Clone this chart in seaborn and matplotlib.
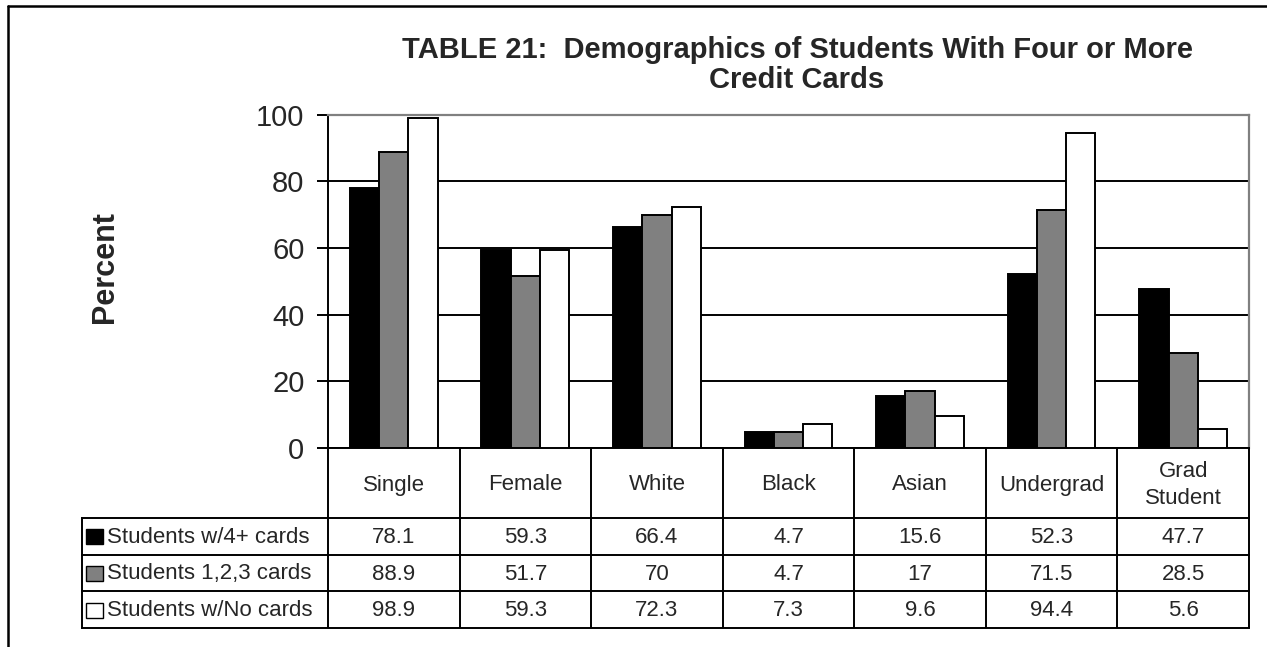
import matplotlib
matplotlib.use("Agg")
import matplotlib.pyplot as plt
from matplotlib.patches import Rectangle
from matplotlib.lines import Line2D
import seaborn as sns
import pandas as pd

# ---- data -------------------------------------------------------------
categories = ["Single", "Female", "White", "Black", "Asian", "Undergrad", "Grad\nStudent"]
series_names = ["Students w/4+ cards", "Students 1,2,3 cards", "Students w/No cards"]
four_plus = [78.1, 59.3, 66.4, 4.7, 15.6, 52.3, 47.7]
one_to_three = [88.9, 51.7, 70, 4.7, 17, 71.5, 28.5]
no_cards = [98.9, 59.3, 72.3, 7.3, 9.6, 94.4, 5.6]
y_ticks = [0, 20, 40, 60, 80, 100]
title = "TABLE 21:  Demographics of Students With Four or More\nCredit Cards"
y_label = "Percent"

series_values = [four_plus, one_to_three, no_cards]
colors = ["#000000", "#808080", "#ffffff"]

df = pd.DataFrame({
    "category": categories * 3,
    "series": [s for s in series_names for _ in categories],
    "value": four_plus + one_to_three + no_cards,
})

# ---- style ------------------------------------------------------------
sns.set_style("white")
plt.rcParams["font.family"] = ["Liberation Sans", "DejaVu Sans"]

W, H = 1267, 647
fig = plt.figure(figsize=(W / 100, H / 100), dpi=100)
fig.patch.set_facecolor("white")

# pixel-box geometry of the chart and its data table
px_left, px_right = 328, 1249
px_top, px_zero = 114.5, 448
px_table_bottom = 628
px_legend_left = 82

def frac_box(x0, y0, x1, y1):
    return [x0 / W, 1 - y1 / H, (x1 - x0) / W, (y1 - y0) / H]

ax = fig.add_axes(frac_box(px_left, px_top, px_right, px_zero))
ax.set_axisbelow(True)

sns.barplot(data=df, x="category", y="value", hue="series",
            order=categories, hue_order=series_names, palette=colors,
            width=2 / 3, edgecolor="black", linewidth=1.4, saturation=1,
            legend=False, ax=ax, zorder=3)

ax.set_xlim(-0.5, len(categories) - 0.5)
ax.set_ylim(0, 100)
ax.set_yticks(y_ticks)
ax.set_yticklabels([str(t) for t in y_ticks], fontsize=21)
ax.tick_params(axis="y", length=8, width=1.4, color="black", pad=9, direction="out", left=True)
ax.tick_params(axis="x", bottom=False, labelbottom=False)
ax.set_xlabel("")
ax.set_ylabel("")
ax.yaxis.grid(True, color="black", linewidth=1.4)
ax.get_ygridlines()[-1].set_visible(False)
for side in ["left", "bottom"]:
    ax.spines[side].set_color("black")
    ax.spines[side].set_linewidth(1.4)
for side in ["top", "right"]:
    ax.spines[side].set_color("#808080")
    ax.spines[side].set_linewidth(1.6)

# ---- data table --------------------------------------------------------
cat_w = (px_right - px_left) / len(categories)
leg_w = (px_left - px_legend_left) / cat_w
tax = fig.add_axes(frac_box(px_legend_left, px_zero, px_right, px_table_bottom))
tax.set_xlim(-0.5 - leg_w, len(categories) - 0.5)
tab_h = px_table_bottom - px_zero
tax.set_ylim(tab_h, 0)
tax.axis("off")

header_h = 70
row_h = (tab_h - header_h) / len(series_names)
lw = 1.4
x_first = -0.5
x_last = len(categories) - 0.5
x_leg = -0.5 - leg_w
table_fs = 16

# vertical separators between categories
for i in range(len(categories) + 1):
    tax.plot([x_first + i, x_first + i], [0, tab_h], color="black", lw=lw,
             solid_capstyle="butt", clip_on=False)
# horizontal row lines
for r in range(len(series_names) + 1):
    y = header_h + r * row_h
    tax.plot([x_leg, x_last], [y, y], color="black", lw=lw, clip_on=False,
             solid_capstyle="projecting")
tax.plot([x_leg, x_leg], [header_h, tab_h], color="black", lw=lw, clip_on=False)

# category headers
for i, cat in enumerate(categories):
    tax.text(i, header_h / 2 + 2, cat, ha="center", va="center",
             fontsize=table_fs, linespacing=1.35)

# legend keys, series names and values
key_w = 17 / cat_w
for r, (name, vals, col) in enumerate(zip(series_names, series_values, colors)):
    yc = header_h + (r + 0.5) * row_h
    tax.add_patch(Rectangle((x_leg + 4 / cat_w, yc - 7), key_w, 15,
                            facecolor=col, edgecolor="black", lw=1.0, clip_on=False))
    tax.text(x_leg + 25 / cat_w, yc + 1, name, ha="left", va="center", fontsize=table_fs)
    for i, v in enumerate(vals):
        tax.text(i, yc + 1, f"{v:g}", ha="center", va="center", fontsize=table_fs)

# ---- titles ------------------------------------------------------------
fig.text(797 / W, 1 - 65 / H, title, ha="center", va="center",
         fontsize=21, fontweight="bold", linespacing=1.12)
fig.text(105 / W, 1 - 267 / H, y_label, ha="center", va="center",
         fontsize=22, fontweight="bold", rotation=90)

# ---- outer frame -------------------------------------------------------
fig.add_artist(Line2D([7.5 / W, 1.0], [1 - 6 / H, 1 - 6 / H], transform=fig.transFigure,
                      color="black", lw=1.8))
fig.add_artist(Line2D([7.5 / W, 7.5 / W], [0, 1 - 6 / H], transform=fig.transFigure,
                      color="black", lw=1.8))

fig.savefig("out.png", dpi=100, facecolor="white")
